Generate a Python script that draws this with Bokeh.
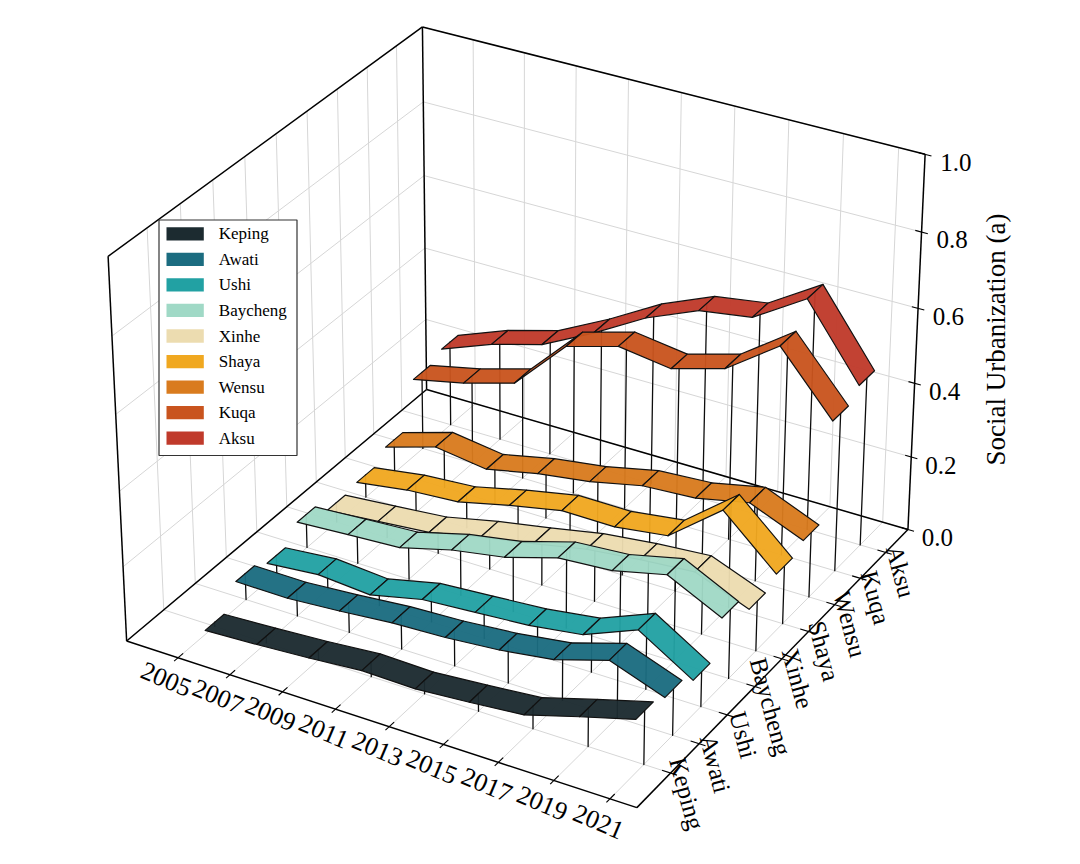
import numpy as np
from bokeh.plotting import figure
from bokeh.models import Range1d, ColumnDataSource
from bokeh.core.properties import value
from bokeh.embed import file_html
from bokeh.resources import INLINE

# ---------------- data ----------------
years = [2005, 2007, 2009, 2011, 2013, 2015, 2017, 2019, 2021]
regions = ["Keping", "Awati", "Ushi", "Baycheng", "Xinhe", "Shaya", "Wensu", "Kuqa", "Aksu"]

keping   = [0.011, 0.018, 0.027, 0.039, 0.036, 0.047, 0.060, 0.102, 0.142]
awati    = [0.071, 0.070, 0.080, 0.093, 0.099, 0.111, 0.131, 0.175, 0.123]
ushi     = [0.049, 0.062, 0.051, 0.083, 0.093, 0.103, 0.123, 0.181, 0.093]
baycheng = [0.091, 0.100, 0.108, 0.145, 0.169, 0.211, 0.221, 0.254, 0.184]
xinhe    = [0.054, 0.066, 0.079, 0.110, 0.135, 0.163, 0.179, 0.190, 0.134]
shaya    = [0.062, 0.083, 0.093, 0.126, 0.154, 0.153, 0.172, 0.284, 0.156]
wensu    = [0.092, 0.134, 0.114, 0.144, 0.164, 0.195, 0.204, 0.234, 0.175]
kuqa     = [0.214, 0.244, 0.284, 0.424, 0.464, 0.444, 0.484, 0.584, 0.426]
aksu     = [0.233, 0.286, 0.325, 0.396, 0.476, 0.535, 0.556, 0.644, 0.454]

series = [keping, awati, ushi, baycheng, xinhe, shaya, wensu, kuqa, aksu]
colors = ["#1c2b30", "#1b6c80", "#22a1a3", "#a0d9c6", "#ecdcb0",
          "#f0a820", "#d97b1e", "#c9541e", "#c03a2b"]

z_ticks = [0.0, 0.2, 0.4, 0.6, 0.8, 1.0]
z_tick_labels = ["0.0", "0.2", "0.4", "0.6", "0.8", "1.0"]
z_title = "Social Urbanization (a)"

# ---------------- 3D view (matplotlib-like default camera) ----------------
XLIM = (2003.0, 2021.95)
YLIM = (-1.154, 8.9)
ZLIM = (0.0, 1.0)
HALF_W = 0.3          # ribbon half width along the region axis

ELEV, AZIM, DIST = 30.0, -60.0, 10.0
BOX = np.array([4.0, 4.0, 3.0]) * 1.8294640721620434 * 25 / 24 / np.linalg.norm([4, 4, 3])
CX, CY, SCALE = 524.0, 398.0, 4910.0
PAGE_H = 864.0

_e, _a = np.deg2rad(ELEV), np.deg2rad(AZIM)
W = np.array([np.cos(_e) * np.cos(_a), np.cos(_e) * np.sin(_a), np.sin(_e)])
U = np.cross([0.0, 0.0, 1.0], W)
U /= np.linalg.norm(U)
V = np.cross(W, U)
RC = BOX / 2


def proj_box(a, b, c):
    a, b, c = np.broadcast_arrays(np.asarray(a, float), np.asarray(b, float), np.asarray(c, float))
    P = np.stack([a, b, c], -1) * BOX
    d = P - RC
    xv, yv, wd = d @ U, d @ V, d @ W
    den = DIST - wd
    sx = CX + SCALE * xv / den
    sy = CY - SCALE * yv / den
    return sx, PAGE_H - sy, wd


def to_box(x, y, z):
    return ((np.asarray(x, float) - XLIM[0]) / (XLIM[1] - XLIM[0]),
            (np.asarray(y, float) - YLIM[0]) / (YLIM[1] - YLIM[0]),
            (np.asarray(z, float) - ZLIM[0]) / (ZLIM[1] - ZLIM[0]))


def proj(x, y, z):
    return proj_box(*to_box(x, y, z))


FONT = value("Liberation Serif")

W_PX, H_PX = 1062, 846
p = figure(width=W_PX, height=H_PX, x_range=Range1d(0, W_PX), y_range=Range1d(PAGE_H - H_PX, PAGE_H),
           output_backend="svg", toolbar_location=None, x_axis_type=None, y_axis_type=None,
           min_border=0, outline_line_color=None, background_fill_color="white")

# ---------------- grid ----------------
ya = to_box(0, list(range(len(regions))), 0)[1]
xa = to_box(years, 0, 0)[0]
za = to_box(0, 0, z_ticks)[2]
gx, gy = [], []


def seg(a0, b0, c0, a1, b1, c1, X, Y):
    sx, sy, _ = proj_box([a0, a1], [b0, b1], [c0, c1])
    X.append(list(sx)); Y.append(list(sy))


for a in xa:
    seg(a, 0, 0, a, 1, 0, gx, gy)      # floor
    seg(a, 1, 0, a, 1, 1, gx, gy)      # back pane
for b in ya:
    seg(0, b, 0, 1, b, 0, gx, gy)      # floor
    seg(0, b, 0, 0, b, 1, gx, gy)      # left pane
for c in za:
    seg(0, 0, c, 0, 1, c, gx, gy)      # left pane
    seg(0, 1, c, 1, 1, c, gx, gy)      # back pane
p.multi_line(gx, gy, line_color="#d6d6d6", line_width=1.0)

# ---------------- box edges ----------------
ex, ey = [], []
for (a0, b0, c0, a1, b1, c1) in [(0, 0, 0, 1, 0, 0), (1, 0, 0, 1, 1, 0), (1, 1, 0, 0, 1, 0),
                                 (0, 1, 0, 0, 0, 0), (0, 0, 0, 0, 0, 1), (0, 1, 0, 0, 1, 1),
                                 (1, 1, 0, 1, 1, 1), (0, 0, 1, 0, 1, 1), (0, 1, 1, 1, 1, 1)]:
    seg(a0, b0, c0, a1, b1, c1, ex, ey)
p.multi_line(ex, ey, line_color="black", line_width=1.5)

# ---------------- ticks ----------------
tx, ty = [], []
for a in xa:
    seg(a, -0.012, 0, a, 0.016, 0, tx, ty)
for b in ya:
    seg(1.012, b, 0, 0.984, b, 0, tx, ty)
for c in za:
    seg(1.012, 1, c, 0.988, 1, c, tx, ty)
p.multi_line(tx, ty, line_color="black", line_width=1.1)

# ---------------- ribbons and stems (painter's order) ----------------
elems = []
for i, (vals, col) in enumerate(zip(series, colors)):
    for k in range(len(years) - 1):
        sx, sy, wd = proj([years[k], years[k + 1], years[k + 1], years[k]],
                          [i - HALF_W, i - HALF_W, i + HALF_W, i + HALF_W],
                          [vals[k], vals[k + 1], vals[k + 1], vals[k]])
        elems.append((wd.mean(), list(sx), list(sy), col, 0.96, "#111111", 1.2))
    for k in range(len(years)):
        sx, sy, wd = proj([years[k], years[k]], [i, i], [0, vals[k]])
        elems.append((wd.mean(), list(sx), list(sy), "black", 0.0, "#0d0d0d", 1.3))
elems.sort(key=lambda e: e[0])
rib = ColumnDataSource(dict(xs=[e[1] for e in elems], ys=[e[2] for e in elems],
                            fc=[e[3] for e in elems], fa=[e[4] for e in elems],
                            lc=[e[5] for e in elems], lw=[e[6] for e in elems]))
p.patches("xs", "ys", source=rib, fill_color="fc", fill_alpha="fa",
          line_color="lc", line_width="lw", line_join="round")

# ---------------- tick labels ----------------
lx, ly, _ = proj_box(xa, -0.038, -0.03)
p.text(lx, ly, text=[str(y) for y in years], text_font=FONT, text_font_size="26px",
       text_align="center", text_baseline="middle", angle=np.deg2rad(-23), text_color="black")

rx, ry, _ = proj_box(1.031, ya, -0.04)
p.text(rx, ry, text=regions, text_font=FONT, text_font_size="25px",
       text_align="center", text_baseline="middle", angle=np.deg2rad(-75), text_color="black")

zx, zy, _ = proj_box(1.058, 1.0, za)
p.text(zx, zy, text=z_tick_labels, text_font=FONT, text_font_size="25px",
       text_align="center", text_baseline="middle", text_color="black")

tlx, tly, _ = proj_box(1.11, 1.09, 0.5)
p.text([tlx], [tly], text=[z_title], text_font=FONT, text_font_size="27px",
       text_align="center", text_baseline="middle", angle=np.pi / 2, text_color="black")

# ---------------- legend (drawn manually) ----------------
LEG_L, LEG_T, LEG_R, LEG_B = 158.5, 219.5, 296.5, 455.0
ROW0, ROW_STEP = 233.3, 25.55
PATCH_L, PATCH_R, PATCH_H = 166.0, 203.3, 13.3
LABEL_X = 218.3
p.quad(left=[LEG_L], right=[LEG_R], top=[PAGE_H - LEG_T], bottom=[PAGE_H - LEG_B],
       fill_color="white", line_color="#333333", line_width=1.2)
rows = PAGE_H - (ROW0 + ROW_STEP * np.arange(len(regions)))
p.quad(left=PATCH_L, right=PATCH_R, top=rows + PATCH_H / 2, bottom=rows - PATCH_H / 2,
       fill_color=colors, fill_alpha=1.0, line_color=None)
p.text(LABEL_X, rows, text=regions, text_font=FONT, text_font_size="17px",
       text_align="left", text_baseline="middle", text_color="black")

open("out.html", "w").write(file_html(p, INLINE))
